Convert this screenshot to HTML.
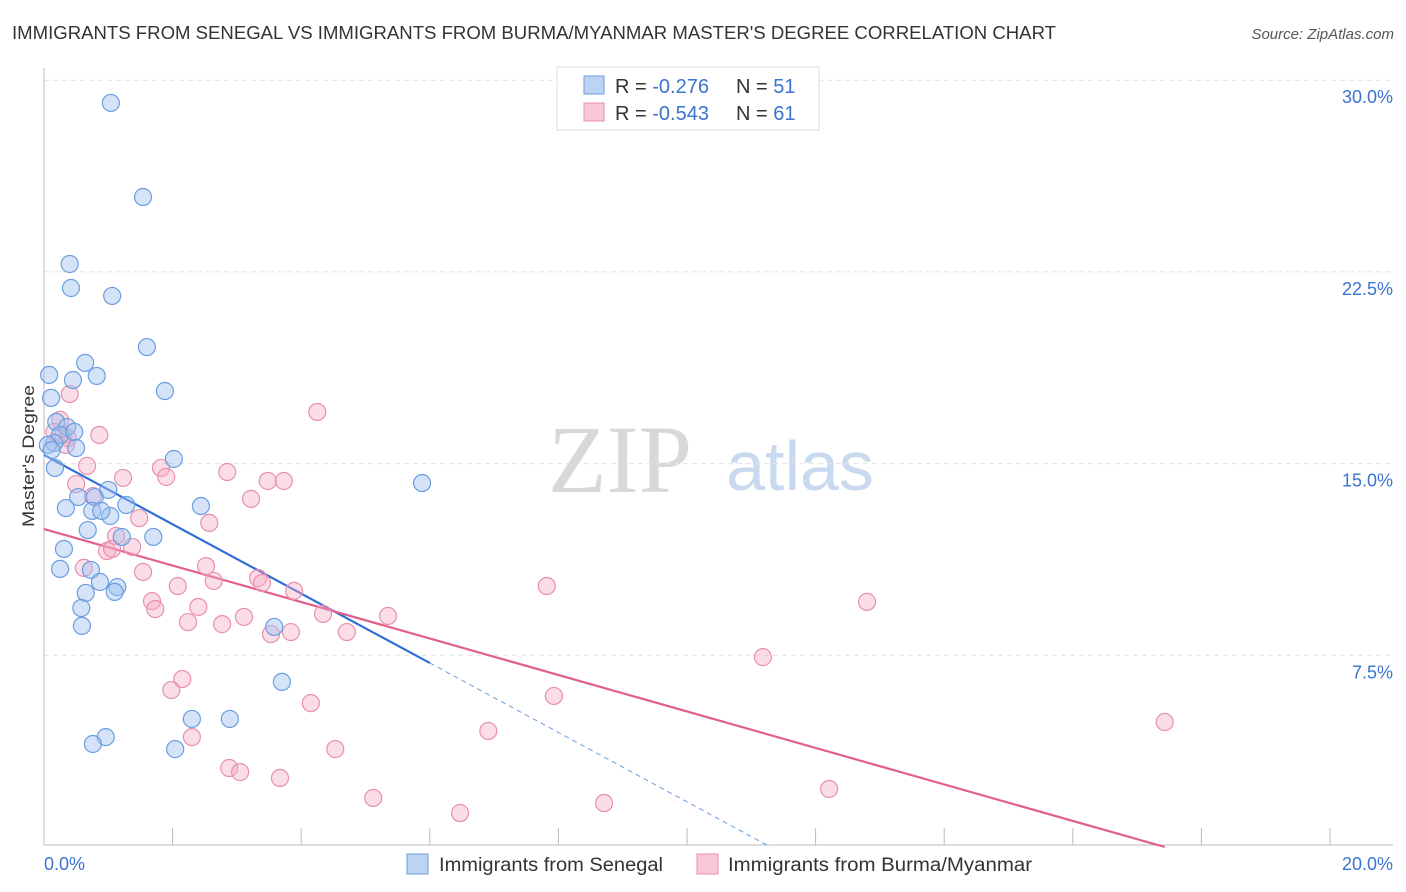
<!DOCTYPE html>
<html><head><meta charset="utf-8"><style>
body{margin:0;background:#fff;font-family:"Liberation Sans",sans-serif;}
#wrap{position:relative;width:1406px;height:892px;overflow:hidden;}
</style></head><body>
<div id="wrap">
<svg id="chart" width="1406" height="892" xmlns="http://www.w3.org/2000/svg">
<text x="12" y="39" font-size="18" fill="#333" textLength="1044" lengthAdjust="spacingAndGlyphs">IMMIGRANTS FROM SENEGAL VS IMMIGRANTS FROM BURMA/MYANMAR MASTER'S DEGREE CORRELATION CHART</text>
<text x="1394" y="39" font-size="15" fill="#555" font-style="italic" text-anchor="end">Source: ZipAtlas.com</text>
<text x="620" y="492" font-size="96" fill="#d8d8d8" font-family="Liberation Serif,serif" text-anchor="middle">ZIP</text>
<text x="800" y="490" font-size="70" fill="#c9daf0" text-anchor="middle">atlas</text>
<g id="grid"></g><g id="axes"></g><g id="lines"></g><g id="pts"></g>
<text transform="translate(34,456) rotate(-90)" font-size="17" fill="#333" text-anchor="middle" textLength="142" lengthAdjust="spacingAndGlyphs">Master's Degree</text>
<g>
<rect x="557" y="67" width="262" height="63" fill="#fff" stroke="#ddd"/>
<rect x="584" y="76" width="20" height="18" fill="#bcd3f3" stroke="#6a9ee0"/>
<rect x="584" y="103" width="20" height="18" fill="#f8c8d8" stroke="#e890ae"/>
<text x="615" y="93" font-size="20" fill="#333">R = <tspan fill="#3a73d0">-0.276</tspan><tspan x="736">N = </tspan><tspan fill="#3a73d0">51</tspan></text>
<text x="615" y="120" font-size="20" fill="#333">R = <tspan fill="#3a73d0">-0.543</tspan><tspan x="736">N = </tspan><tspan fill="#3a73d0">61</tspan></text>
</g>
<g>
<rect x="407" y="854" width="21" height="20" fill="#bcd3f3" stroke="#6a9ee0"/>
<text x="439" y="871" font-size="19" fill="#333" textLength="224" lengthAdjust="spacingAndGlyphs">Immigrants from Senegal</text>
<rect x="697" y="854" width="21" height="20" fill="#f8c8d8" stroke="#e890ae"/>
<text x="728" y="871" font-size="19" fill="#333" textLength="304" lengthAdjust="spacingAndGlyphs">Immigrants from Burma/Myanmar</text>
</g>
</svg>
</div>
<script>
const xTicks=[0,2,4,6,8,10,12,14,16,18,20];
const yTicks=[7.5,15,22.5,30];
const yTickLabels=["7.5%","15.0%","22.5%","30.0%"];
const xEndLabels=["0.0%","20.0%"];
const senegalX=[1.04,1.54,0.40,0.42,1.06,1.60,0.08,0.64,0.45,0.82,0.11,1.88,0.19,0.36,0.25,0.47,0.50,0.16,0.17,2.02,5.88,0.53,0.79,1.00,0.34,0.75,1.03,0.89,1.28,0.68,2.44,1.21,1.70,0.31,0.25,0.73,0.87,0.65,1.14,1.10,0.58,0.59,3.58,3.70,2.30,2.89,0.96,0.76,2.04,0.06,0.12];
const senegalY=[29.11,25.43,22.81,21.87,21.56,19.56,18.47,18.94,18.27,18.43,17.57,17.84,16.63,16.43,16.12,16.24,15.61,15.81,14.83,15.18,14.24,13.69,13.69,13.97,13.26,13.15,12.95,13.15,13.38,12.40,13.34,12.13,12.13,11.66,10.88,10.84,10.37,9.94,10.17,9.98,9.35,8.65,8.61,6.46,5.01,5.01,4.30,4.03,3.83,15.73,15.53];
const burmaX=[0.40,0.25,0.16,0.30,0.37,0.34,0.86,4.25,0.67,1.82,1.90,2.85,3.48,3.73,0.50,0.76,3.22,1.23,1.48,2.57,1.12,0.98,1.37,1.06,0.62,1.54,2.52,2.64,2.08,3.33,3.39,1.68,1.73,3.89,7.82,2.40,3.11,4.34,2.24,2.77,5.35,3.84,3.53,4.71,12.80,11.18,2.15,1.98,7.93,4.15,2.30,6.91,17.43,4.53,2.88,3.05,3.67,5.12,8.71,12.21,6.47];
const burmaY=[17.72,16.71,16.24,16.12,16.00,15.73,16.12,17.02,14.91,14.83,14.48,14.67,14.32,14.32,14.20,13.73,13.62,14.44,12.87,12.68,12.17,11.58,11.74,11.66,10.92,10.76,10.99,10.41,10.21,10.52,10.33,9.62,9.31,10.02,10.21,9.39,9.00,9.12,8.80,8.72,9.04,8.41,8.33,8.41,9.59,7.43,6.57,6.14,5.91,5.63,4.30,4.54,4.89,3.83,3.09,2.93,2.70,1.92,1.72,2.27,1.33];
const senegalTrend=[[0,15.34],[6.0,7.2],[11.3,0]];
const burmaTrend=[[0,12.44],[17.43,0.0]];
const NS="http://www.w3.org/2000/svg";
const sx=v=>44+v/20*1286;
const sy=v=>847-v/7.5*191.7;
function mk(tag,attrs,parent){const e=document.createElementNS(NS,tag);for(const k in attrs)e.setAttribute(k,attrs[k]);document.getElementById(parent).appendChild(e);return e;}
yTicks.forEach((t,i)=>{
 const g=mk('line',{x1:44,x2:1393,y1:sy(t),y2:sy(t),stroke:'#e2e2e2','stroke-dasharray':'5,4'},'grid');
 
 
 const l=mk('text',{x:1393,y:sy(t)+23,'font-size':18,fill:'#3a73d0','text-anchor':'end'},'grid');
 l.textContent=yTickLabels[i];
 
 
});
const ax=mk('line',{x1:44,x2:1393,y1:845,y2:845,stroke:'#bbb'},'axes');


const ay=mk('line',{x1:44,x2:44,y1:68,y2:845,stroke:'#bbb'},'axes');


xTicks.forEach(t=>{
 const k=mk('line',{x1:sx(t),x2:sx(t),y1:828,y2:845,stroke:'#bbb'},'axes');
 
 
});
const l0=mk('text',{x:44,y:870,'font-size':18,fill:'#3a73d0'},'axes');l0.textContent=xEndLabels[0];


const l1=mk('text',{x:1393,y:870,'font-size':18,fill:'#3a73d0','text-anchor':'end'},'axes');l1.textContent=xEndLabels[1];


function pts(xs,ys,fill,stroke,name){xs.forEach((x,i)=>{
 const c=mk('circle',{cx:sx(x),cy:sy(ys[i]),r:8.5,fill:fill,stroke:stroke,'stroke-width':1.2},'pts');
 
 
});}
pts(burmaX,burmaY,'rgba(244,170,195,0.4)','#e890ae','burma-point');
pts(senegalX,senegalY,'rgba(160,194,240,0.45)','#6a9ee0','senegal-point');
const t1=mk('line',{x1:sx(senegalTrend[0][0]),y1:sy(senegalTrend[0][1]),x2:sx(senegalTrend[1][0]),y2:sy(senegalTrend[1][1]),stroke:'#2f6fd6','stroke-width':2.2},'lines');


const t1d=mk('line',{x1:sx(senegalTrend[1][0]),y1:sy(senegalTrend[1][1]),x2:sx(senegalTrend[2][0]),y2:sy(senegalTrend[2][1]),stroke:'#6a9ee0','stroke-width':1,'stroke-dasharray':'5,4'},'lines');


const t2=mk('line',{x1:sx(burmaTrend[0][0]),y1:sy(burmaTrend[0][1]),x2:sx(burmaTrend[1][0]),y2:sy(burmaTrend[1][1]),stroke:'#e0608a','stroke-width':2.2},'lines');


</script>
</body></html>
